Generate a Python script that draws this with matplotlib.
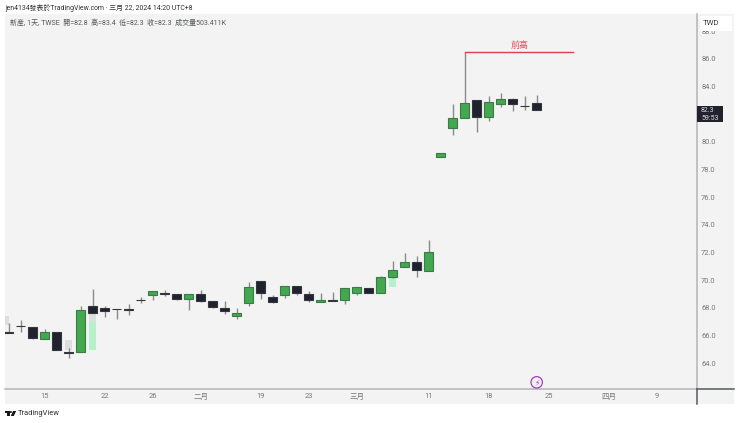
import matplotlib
matplotlib.use("Agg")
import matplotlib.pyplot as plt
from matplotlib.patches import Rectangle, Polygon, Circle
from matplotlib.lines import Line2D
from matplotlib.transforms import Affine2D

plt.rcParams['font.family'] = ['Roboto', 'Noto Sans CJK TC', 'DejaVu Sans']

# Candles, index 0..44
body_top = [66.27, 66.7, 66.6, 66.23, 66.23, 64.78, 67.82, 68.13, 68.0, 67.93, 67.9, 68.6, 69.2, 69.05, 69.0,
            69.02, 69.02, 68.51, 68.0, 67.62, 69.5, 69.92, 68.8, 69.6, 69.6, 69.02, 68.6, 68.54, 69.4, 69.5,
            69.4, 70.2, 70.7, 71.29, 71.29, 72.0, 79.19, 81.7, 82.79, 83.0, 82.88, 83.07, 83.07, 82.61, 82.79]
body_bottom = [66.2, 66.66, 65.84, 65.74, 64.95, 64.74, 64.82, 67.62, 67.74, 67.9, 67.82, 68.56, 68.92, 69.02, 68.64,
               68.64, 68.51, 68.05, 67.74, 67.43, 68.35, 69.05, 68.42, 68.92, 69.05, 68.54, 68.44, 68.5, 68.54, 69.05,
               69.05, 69.05, 70.22, 70.95, 70.75, 70.64, 78.9, 81.02, 81.72, 81.82, 81.82, 82.71, 82.71, 82.58, 82.28]
highs = [66.9, 67.1, 66.6, 66.45, 66.23, 65.07, 68.13, 69.33, 68.13, 67.93, 68.25, 68.8, 69.2, 69.26, 69.0,
         69.02, 69.3, 68.51, 68.51, 67.98, 69.84, 69.92, 68.9, 69.6, 69.6, 69.24, 69.05, 69.14, 69.4, 69.5,
         69.4, 70.3, 71.4, 71.94, 71.72, 72.9, 79.19, 82.71, 86.49, 83.05, 83.3, 83.5, 83.17, 83.3, 83.41]
lows = [66.2, 66.27, 65.74, 65.74, 64.95, 64.35, 64.82, 67.62, 67.35, 67.17, 67.47, 68.32, 68.56, 68.85, 68.54,
        67.84, 68.44, 68.0, 67.55, 67.2, 68.15, 68.63, 68.37, 68.7, 68.95, 68.44, 68.44, 68.5, 68.27, 68.9,
        69.05, 69.05, 70.13, 70.95, 70.25, 70.64, 78.9, 80.51, 81.72, 80.71, 81.53, 82.5, 82.23, 82.3, 82.28]
rising = [0, 0, 0, 1, 0, 0, 1, 0, 0, 0, 0, 0, 1, 0, 0,
          1, 0, 0, 0, 1, 1, 0, 0, 1, 0, 0, 1, 0, 1, 1,
          0, 1, 1, 1, 0, 1, 1, 1, 1, 0, 1, 1, 0, 0, 0]

# Pale gap zones behind the candles: (left idx, right idx, low, high)
gap_grey = [(-0.31, 0.0, 66.75, 67.4), (4.68, 5.3, 64.95, 65.7), (6.68, 7.3, 67.0, 67.62)]
gap_green = [(6.68, 7.3, 64.95, 67.0), (31.68, 32.3, 69.5, 70.15)]

# Axis labels (82.0 sits behind the last-price badge in the reference)
x_tick_pos = [3, 8, 12, 16, 21, 25, 29, 35, 40, 45, 50, 54]
x_tick_labels = ['15', '22', '26', '二月', '19', '23', '三月', '11', '18', '25', '四月', '9']
y_ticks = [64, 66, 68, 70, 72, 74, 76, 78, 80, 84, 86, 88]

# Annotation
level_start = 38
level_end = 47.03
level_price = 86.49
last_price = 82.3

W, H = 740, 423
fig = plt.figure(figsize=(W / 100, H / 100), dpi=100, facecolor='white')
px = Affine2D().scale(1 / W, -1 / H).translate(0, 1) + fig.transFigure

PANEL = '#f3f3f3'
GREY = '#8a8a8a'
GREEN = '#43a84f'
GREEN_EDGE = '#3c7a48'
DARK = '#20232d'
LABEL = '#77787c'

fig.add_artist(Rectangle((5, 14), 729, 390, transform=px, fc=PANEL, ec='none', zorder=-5))

ax = fig.add_axes([5 / W, 1 - 389 / H, 692 / W, 375 / H])
ax.patch.set_alpha(0)
ax.set_xlim(-0.308, 57.35)
ax.set_ylim(62.13, 89.24)
for s in ('top', 'left'):
    ax.spines[s].set_visible(False)
for s in ('right', 'bottom'):
    ax.spines[s].set_color('#b4b4b4')
    ax.spines[s].set_linewidth(1.1)

ax.yaxis.tick_right()
ax.set_yticks(y_ticks)
ax.set_yticklabels([f'{v:.1f}' for v in y_ticks], fontsize=5.4, color=LABEL)
ax.tick_params(axis='y', length=0, pad=3)
ax.set_xticks(x_tick_pos)
ax.set_xticklabels(x_tick_labels, fontsize=5.4, color=LABEL)
ax.tick_params(axis='x', length=0, pad=3.2)

for x0, x1, lo, hi in gap_grey:
    ax.add_patch(Rectangle((x0, lo), x1 - x0, hi - lo, fc='#dedede', ec='none', zorder=1))
for x0, x1, lo, hi in gap_green:
    ax.add_patch(Rectangle((x0, lo), x1 - x0, hi - lo, fc='#b5f2cb', ec='none', zorder=1))

idx = list(range(len(body_top)))
ax.vlines(idx, lows, highs, colors=GREY, linewidth=1.0, zorder=2)
ax.bar(idx, [t - b for t, b in zip(body_top, body_bottom)], bottom=body_bottom, width=0.74,
       color=[GREEN if r else DARK for r in rising],
       edgecolor=[GREEN_EDGE if r else '#33363f' for r in rising], linewidth=0.8, zorder=3)

# Resistance level
ax.plot([level_start, level_end], [level_price, level_price], color='#d9434f', lw=1.0, zorder=4)
ax.text((level_start + level_end) / 2 + 0.05, level_price + 0.5, '前高', color='#e0485c',
        fontsize=6.5, ha='center', va='center')

# Event marker
ax.add_patch(Circle((536.7, 382.3), 5.7, transform=px, fc=PANEL, ec='#a63ac4', lw=0.9, zorder=5, clip_on=False))
ax.text(536.7, 382.5, '⚡', transform=px, family='DejaVu Sans', fontsize=5.6, color='#a63ac4',
        ha='center', va='center', zorder=6)

# Axis corner lines
fig.add_artist(Line2D([697, 697], [389, 404], transform=px, color='#55585f', lw=1.1))
fig.add_artist(Line2D([697, 734], [389, 389], transform=px, color='#55585f', lw=1.1))

# Currency box
ax.add_patch(Rectangle((700, 16), 32, 15, transform=px, fc='white', ec='none', zorder=7, clip_on=False))
ax.text(711, 23.3, 'TWD', transform=px, fontsize=5.6, color='#3a3d45', ha='center', va='center', zorder=8)

# Last price badge
ax.add_patch(Rectangle((697, 106), 25.5, 16.5, transform=px, fc=DARK, ec='none', zorder=7, clip_on=False))
ax.text(701, 114.2, f'{last_price:.1f}\n59:53', transform=px, fontsize=5.0, color='#dcdde0',
        va='center', ha='left', linespacing=1.12, zorder=8)

# Headings
fig.text(5 / W, 1 - 8.3 / H, 'jen4134發表於TradingView.com · 三月 22, 2024 14:20 UTC+8',
         fontsize=4.95, color='#2e3036', va='center')
fig.text(10 / W, 1 - 23 / H, '新産, 1天, TWSE  開=82.8  高=83.4  低=82.3  收=82.3  成交量503.411K',
         fontsize=5.0, color='#55575c', va='center')

# Footer brand
fig.add_artist(Polygon([(5, 411), (9.6, 411), (9.6, 416), (7.3, 416), (7.3, 413), (5, 413)],
                       transform=px, fc='#16181d', ec='none'))
fig.add_artist(Circle((10.9, 412), 1.0, transform=px, fc='#16181d', ec='none'))
fig.add_artist(Polygon([(13, 411), (16.2, 411), (13.8, 416), (10.8, 416)], transform=px, fc='#16181d', ec='none'))
fig.text(18 / W, 1 - 413.5 / H, 'TradingView', fontsize=5.4, color='#2e3036', va='center')

fig.savefig('out.png', dpi=100)
